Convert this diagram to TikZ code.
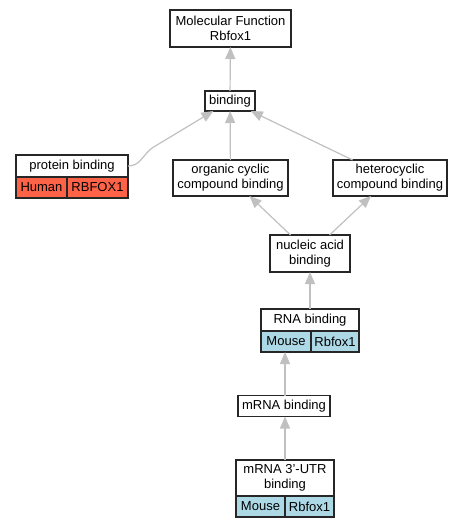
\documentclass[tikz,border=0pt]{standalone}
\usepackage{fontspec}
\setmainfont{Liberation Sans}
\usetikzlibrary{positioning,arrows.meta}
\definecolor{human}{HTML}{FF6347}
\definecolor{mouse}{HTML}{ADD8E6}
\definecolor{edgegray}{HTML}{C0C0C0}

\begin{document}
\begin{tikzpicture}[x=1pt,y=-1pt,
      term/.style={rectangle,draw=black!85,fill=white,line width=1.2pt,
        align=center,inner sep=0pt,outer sep=0pt,
        font=\fontsize{13}{15}\selectfont},
      cell/.style={term,minimum height=21pt},
      isa/.style={draw=edgegray,line width=1.2pt,
        -{Triangle[length=12pt,width=10pt]}}]
      \useasboundingbox (0,0) rectangle (464,528);
      % Terms
      \node[term,minimum width=121pt,minimum height=37pt] (mf) at (230.5,28.5)
        {Molecular Function\\Rbfox1};
      \node[term,minimum width=50pt,minimum height=20pt] (bind) at (230,101) {binding};
      \node[term,minimum width=112pt,minimum height=22pt] (pb) at (72,166) {protein binding};
      \node[term,minimum width=115pt,minimum height=36pt] (occ) at (230.5,178)
        {organic cyclic\\compound binding};
      \node[term,minimum width=114pt,minimum height=36pt] (hcc) at (390,178)
        {heterocyclic\\compound binding};
      \node[term,minimum width=80pt,minimum height=37pt] (nab) at (310,253.5)
        {nucleic acid\\binding};
      \node[term,minimum width=98pt,minimum height=22pt] (rna) at (310,320) {RNA binding};
      \node[term,minimum width=92pt,minimum height=21pt] (mrna) at (284,406) {mRNA binding};
      \node[term,minimum width=98pt,minimum height=36pt] (utr) at (285,478)
        {mRNA 3'-UTR\\binding};
      % Annotations
      \node[cell,fill=human,minimum width=51pt,below right=0pt and 0pt of pb.south west] (pbsp) {Human};
      \node[cell,fill=human,minimum width=61pt,right=0pt of pbsp] (pbgene) {RBFOX1};
      \node[cell,fill=mouse,minimum width=50pt,below right=0pt and 0pt of rna.south west] (rnasp) {Mouse};
      \node[cell,fill=mouse,minimum width=48pt,right=0pt of rnasp] (rnagene) {Rbfox1};
      \node[cell,fill=mouse,minimum width=49pt,below right=0pt and 0pt of utr.south west] (utrsp) {Mouse};
      \node[cell,fill=mouse,minimum width=49pt,right=0pt of utrsp] (utrgene) {Rbfox1};
      % Edges
      \draw[isa] (bind) -- (mf);
      \draw[isa] (occ) -- (bind);
      \draw[isa] (hcc) -- (bind);
      \draw[isa] (pb.east) .. controls +(12,0) and +(-10,8) .. (152,148) -- (bind);
      \draw[isa] (nab) -- (occ);
      \draw[isa] (nab) -- (hcc);
      \draw[isa] (rna) -- (nab);
      \draw[isa] (mrna.north -| utr.north) -- (utr.north |- rnasp.south);
      \draw[isa] (utr.north) -- (utr.north |- mrna.south);
    \end{tikzpicture}
\end{document}
